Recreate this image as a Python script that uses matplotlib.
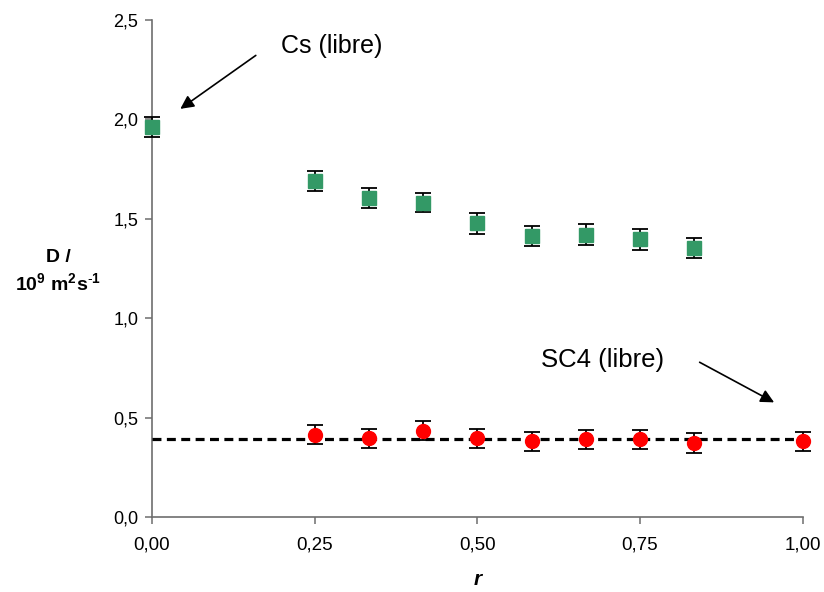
"""
Diffusion coefficient D versus r for Cs and SC4, with free-species references
"""

from matplotlib import pyplot as plt
import numpy as np

plt.rcParams["font.family"] = ["Liberation Sans", "DejaVu Sans"]
plt.rcParams["mathtext.fontset"] = "custom"
plt.rcParams["mathtext.rm"] = "Liberation Sans"
plt.rcParams["mathtext.bf"] = "Liberation Sans:bold"

# Cs data (green squares)
r_cs = [0.0, 0.25, 1 / 3, 5 / 12, 0.5, 7 / 12, 2 / 3, 0.75, 5 / 6]
d_cs = [1.962, 1.688, 1.604, 1.582, 1.478, 1.415, 1.419, 1.396, 1.355]
err_cs = [0.05, 0.05, 0.05, 0.05, 0.053, 0.05, 0.053, 0.053, 0.05]

# SC4 data (red circles)
r_sc4 = [0.25, 1 / 3, 5 / 12, 0.5, 7 / 12, 2 / 3, 0.75, 5 / 6, 1.0]
d_sc4 = [0.413, 0.396, 0.434, 0.395, 0.382, 0.390, 0.390, 0.372, 0.382]
err_sc4 = [0.048, 0.048, 0.048, 0.048, 0.048, 0.049, 0.049, 0.049, 0.048]

# free SC4 reference level (dashed line)
D_SC4_LIBRE = 0.39

XTICKS = [0.0, 0.25, 0.5, 0.75, 1.0]
YTICKS = [0.0, 0.5, 1.0, 1.5, 2.0, 2.5]

AXIS_GREY = "#6e6e6e"

fig = plt.figure(figsize=(8.24, 5.92), dpi=100)
ax = fig.add_axes([0.1845, 0.1267, 0.7895, 0.8395])

ax.plot([0, 1], [D_SC4_LIBRE, D_SC4_LIBRE], color="black", lw=2.3,
        ls=(0, (2.8, 1.7)), zorder=2, clip_on=False)

for r, d, e, fmt, col, ms in [(r_cs, d_cs, err_cs, "s", "#339966", 10.5),
                               (r_sc4, d_sc4, err_sc4, "o", "red", 10)]:
    cont = ax.errorbar(r, d, yerr=e, fmt=fmt, color=col, mec=col, ms=ms,
                       ecolor="black", elinewidth=1.3, capsize=6,
                       capthick=1.3, zorder=3)
    for art in cont.get_children():
        art.set_clip_on(False)

ax.set_xlim(0, 1)
ax.set_ylim(0, 2.5)
ax.set_xticks(XTICKS)
ax.set_yticks(YTICKS)
ax.set_xticklabels([f"{t:.2f}".replace(".", ",") for t in XTICKS], fontsize=13.5)
ax.set_yticklabels([f"{t:.1f}".replace(".", ",") for t in YTICKS], fontsize=13)
ax.tick_params(direction="out", length=5, width=1.1, color=AXIS_GREY)
ax.tick_params(axis="x", pad=9)
ax.tick_params(axis="y", pad=5)

for side in ["top", "right"]:
    ax.spines[side].set_visible(False)
for side in ["left", "bottom"]:
    ax.spines[side].set_color(AXIS_GREY)
    ax.spines[side].set_linewidth(1.2)
    ax.spines[side].set_zorder(1)

ax.set_xlabel("r", fontsize=15, fontweight="bold", style="italic", labelpad=12)
fig.text(0.0705, 0.558, "D /", fontsize=14, fontweight="bold", ha="center")
fig.text(0.0705, 0.508,
         r"10$^{\mathbf{9}}$ m$^{\mathbf{2}}$s$^{\mathbf{\text{-}1}}$",
         fontsize=14, fontweight="bold", ha="center")

ax.annotate("", xy=(0.04, 2.045), xytext=(0.163, 2.33),
            arrowprops=dict(arrowstyle="-|>", color="black", lw=1.2,
                            mutation_scale=20))
ax.text(0.199, 2.37, "Cs (libre)", fontsize=18, ha="left", va="center")

ax.annotate("", xy=(0.960, 0.57), xytext=(0.838, 0.785),
            arrowprops=dict(arrowstyle="-|>", color="black", lw=1.2,
                            mutation_scale=20))
ax.text(0.598, 0.79, "SC4 (libre)", fontsize=18.5, ha="left", va="center")

fig.savefig("out.png", dpi=100)
plt.close(fig)
